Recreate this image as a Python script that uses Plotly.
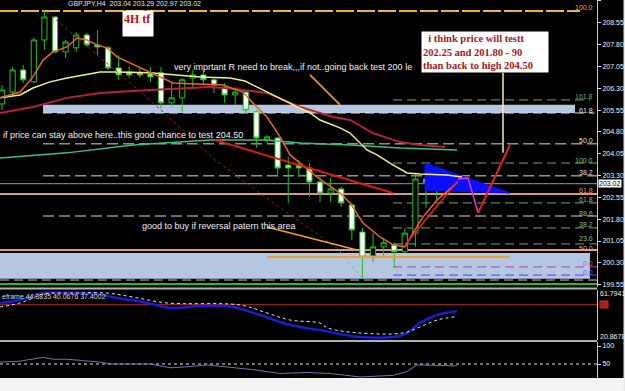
import plotly.graph_objects as go

# ---------------- data ----------------
candle_idx = list(range(44))
opens = [205.76, 206.17, 206.93, 206.52, 207.96, 208.75, 207.55, 207.69, 208.13, 207.79,
         207.69, 207.00, 206.86, 206.83, 206.79, 206.83, 205.80, 205.97, 206.65, 206.76,
         206.59, 206.34, 206.07, 206.17, 205.49, 204.52, 204.59, 203.66, 203.66, 203.56,
         203.08, 202.70, 202.84, 202.29, 201.36, 200.54, 200.85, 200.92, 200.68, 201.32,
         203.18, 203.05, 203.22, 203.04]
highs = [206.41, 207.03, 207.10, 208.03, 208.99, 208.78, 207.96, 208.23, 208.20, 208.30,
         207.76, 207.44, 207.03, 207.00, 207.03, 207.03, 206.48, 206.65, 206.93, 206.93,
         206.65, 206.48, 206.34, 206.24, 205.55, 204.70, 204.63, 203.94, 203.84, 203.73,
         203.25, 203.22, 202.91, 202.36, 201.50, 201.32, 201.16, 200.99, 201.50, 203.39,
         203.29, 203.32, 203.39, 203.29]
lows = [205.55, 206.07, 206.48, 206.48, 207.62, 207.52, 207.34, 207.55, 207.72, 207.44,
        206.93, 206.59, 206.65, 206.65, 206.52, 205.62, 205.66, 205.49, 206.31, 206.41,
        206.14, 205.80, 205.73, 205.45, 204.25, 204.42, 203.32, 202.36, 203.25, 202.57,
        202.39, 202.39, 202.22, 201.09, 199.78, 200.33, 200.50, 200.13, 200.64, 200.85,
        202.19, 202.46, 202.77, 202.97]
closes = [206.24, 206.93, 206.59, 207.96, 208.75, 207.55, 207.89, 208.13, 207.79, 207.72,
          207.00, 206.76, 206.76, 206.76, 206.69, 205.80, 205.97, 206.59, 206.76, 206.59,
          206.41, 206.07, 206.17, 205.55, 204.59, 204.63, 203.56, 203.56, 203.56, 203.08,
          202.70, 202.84, 202.36, 201.43, 200.50, 200.85, 200.99, 200.68, 201.32, 203.18,
          203.05, 203.22, 203.08, 203.02]

# moving averages (bar index, price)
ema_fast_x = [-0.19, 1.70, 2.92, 3.87, 4.81, 6.13, 7.08, 8.02, 8.96, 9.91, 10.85, 12.08, 13.02, 13.96,
              16.13, 20.85, 22.74, 23.68, 25.0, 26.23, 27.17, 29.72, 31.89, 32.83, 34.06, 35.66,
              36.89, 38.02, 38.77, 39.72, 41.04, 42.92]
ema_fast_y = [205.97, 206.17, 206.69, 207.27, 207.55, 207.72, 208.03, 207.96, 207.79, 207.69, 207.38,
              207.17, 207.00, 206.83, 206.48, 206.41, 206.17, 205.79, 205.31, 204.63, 204.01, 203.25,
              202.70, 202.36, 201.67, 201.19, 200.92, 200.85, 201.33, 201.88, 202.46, 203.05]
ma_yellow_x = [-0.19, 1.70, 2.92, 4.53, 6.13, 7.64, 9.25, 10.85, 13.96, 18.68, 21.51, 22.92, 24.06,
               26.51, 29.06, 30.0, 31.89, 32.83, 34.43, 35.38, 36.60, 38.21, 39.43, 41.98, 43.40]
ma_yellow_y = [205.97, 206.07, 206.31, 206.52, 206.65, 206.76, 206.86, 206.86, 206.83, 206.69, 206.65,
               206.55, 206.34, 205.90, 205.45, 205.21, 204.94, 204.76, 204.18, 204.01, 203.73, 203.39,
               203.35, 203.32, 203.25]
ma_crimson_x = [-0.19, 2.92, 6.13, 9.25, 13.96, 19.62, 21.79, 25.0, 28.11, 31.23, 32.83, 35.0,
                37.55, 39.43, 41.79]
ma_crimson_y = [205.45, 205.66, 205.97, 206.14, 206.24, 206.34, 206.28, 206.14, 205.66, 205.31,
                205.21, 204.76, 204.45, 204.35, 204.28]
ma_green_x = [-0.19, 6.13, 12.36, 19.62, 25.0, 28.11, 32.83, 37.55, 42.92]
ma_green_y = [203.90, 204.08, 204.35, 204.52, 204.52, 204.42, 204.35, 204.25, 204.18]

# drawn objects (bar index, price)
trend_red_x = [20.09, 36.89]
trend_red_y = [204.52, 202.70]
diag_dot_x = [4.25, 13.96, 20.09, 26.23, 31.89]
diag_dot_y = [208.92, 205.90, 203.84, 202.19, 200.74]
diag_blue_x = [31.89, 33.96]
diag_blue_y = [200.67, 199.78]
forecast_up_x = [38.02, 43.02]
forecast_up_y = [200.92, 203.12]
forecast_pink_x = [43.02, 43.96, 44.91]
forecast_pink_y = [203.18, 203.22, 202.02]
forecast_red_x = [44.91, 47.92]
forecast_red_y = [202.02, 204.35]
pointer_x = [47.26, 47.26]
pointer_y = [206.83, 204.08]
note1_line_x = [29.06, 31.89]
note1_line_y = [206.76, 205.73]
note3_line_x = [25.0, 33.49]
note3_line_y = [201.53, 200.74]
support_x = [25.0, 47.92]
support_y = [200.50, 200.50]
wedge_x = [39.91, 39.91, 47.92, 39.91]
wedge_y = [203.73, 202.80, 202.70, 203.73]

# level lines: (price, start index, end index, colour, dash, width, label, label colour, label shift)
levels = [
    (208.96, -0.19, 54.53, "#e8b830", "18px,3px", 2, "100.0", "#e8b830", 3),
    (205.90, 36.89, 55.47, "#6fa86f", "9px,5px", 1, "161.8", "#6fa86f", 3),
    (205.45, 3.87, 55.90, "#d8d8d8", "9px,5px", 1, "61.8", "#e0e0e0", 3),
    (204.39, 3.87, 56.13, "#d8d8d8", "11px,5px", 1, "50.0", "#e0e0e0", 3),
    (203.73, 36.89, 56.13, "#6fa86f", "9px,5px", 1, "100.0", "#7fc07f", 3),
    (203.29, 3.87, 56.13, "#d8d8d8", "11px,5px", 1, "38.2", "#e0e0e0", 3),
    (203.02, -0.19, 56.13, "#9a9a9a", "solid", 1, "", "#ffffff", 0),
    (202.67, -0.19, 56.13, "#d49a88", "solid", 2, "61.8", "#e09060", 3),
    (202.36, 36.89, 56.13, "#6fa86f", "9px,5px", 1, "61.8", "#7fc07f", 3),
    (201.91, 3.87, 56.13, "#d8d8d8", "11px,5px", 1, "88.6", "#7fc07f", 3),
    (201.50, 36.89, 56.13, "#6fa86f", "9px,5px", 1, "38.2", "#7fc07f", 3),
    (200.95, 36.89, 56.13, "#6fa86f", "9px,5px", 1, "23.6", "#7fc07f", 5),
    (200.74, -0.19, 56.13, "#d49a88", "solid", 2, "50.0", "#e0a0a0", 2),
    (200.16, 36.89, 56.13, "#b040c0", "9px,5px", 1, "0.0", "#c060d0", 3),
    (199.88, 36.89, 56.13, "#4040ff", "9px,5px", 1, "0.0", "#6060ff", 3),
    (199.71, -0.19, 56.13, "#c8c8c8", "9px,5px", 1, "", "#ffffff", 0),
    (199.57, -0.19, 56.13, "#20c020", "solid", 2, "", "#ffffff", 0),
]
bands = [(205.45, 205.73, 3.87, 54.06), (199.75, 200.64, -0.19, 55.47)]

price_ticks = [209.30, 208.55, 207.80, 207.05, 206.30, 205.55, 204.80, 204.05, 203.30,
               202.55, 201.80, 201.05, 200.30, 199.55]

# indicator 1 (bar index, value)
ind1_blue_x = [-0.19, 1.70, 3.87, 6.13, 8.96, 10.85, 13.30, 15.85, 18.68, 21.79, 24.34, 27.17, 30.0,
               33.77, 37.83, 39.43, 41.04, 42.92]
ind1_blue_y = [51.2, 53.6, 59.3, 59.3, 58.5, 55.2, 52.0, 47.1, 48.7, 47.9, 41.3, 33.1, 29.0,
               23.3, 25.0, 34.8, 41.3, 44.4]
ind1_sig_x = [-0.19, 1.70, 2.92, 3.87, 7.08, 9.91, 12.36, 15.57, 22.45, 25.0, 27.17, 30.0, 30.75,
              33.77, 37.83, 39.43, 41.04, 42.92]
ind1_sig_y = [47.9, 51.2, 55.2, 58.5, 59.3, 59.3, 56.0, 51.2, 49.5, 43.0, 37.2, 34.7, 30.6,
              26.6, 26.6, 31.5, 37.2, 40.1]
ind1_level = 50
# indicator 2
ind2_x = [-0.19, 1.70, 3.87, 4.81, 6.13, 9.25, 10.19, 13.96, 15.85, 17.45, 19.34, 21.79, 23.68,
          26.23, 28.77, 30.94, 33.77, 36.89, 38.21, 39.15, 42.92]
ind2_y = [55.3, 57.9, 68.4, 63.2, 63.2, 55.3, 50.0, 50.0, 39.5, 42.1, 47.4, 39.5, 34.2,
          23.7, 26.3, 23.7, 14.0, 18.4, 28.9, 47.4, 44.7]
ind2_level = 50

# ---------------- figure ----------------
W, H = 625, 391
ML, MR, MT, MB = 0, 28, 0, 13
PW, PH = W - ML - MR, H - MT - MB


def py(p):
    return (PH - p) / PH


def pxp(p):
    return p / PW


fig = go.Figure()

XR = [-0.19, 56.13]

# blue wedge
fig.add_trace(go.Scatter(x=wedge_x, y=wedge_y, fill="toself", fillcolor="#0a10ff",
                         line=dict(color="#0a10ff", width=1), mode="lines", hoverinfo="skip"))

# moving averages
fig.add_trace(go.Scatter(x=ma_green_x, y=ma_green_y, mode="lines",
                         line=dict(color="#3cbf7f", width=1.5)))
fig.add_trace(go.Scatter(x=ma_crimson_x, y=ma_crimson_y, mode="lines",
                         line=dict(color="#b8203c", width=2)))
fig.add_trace(go.Scatter(x=ma_yellow_x, y=ma_yellow_y, mode="lines",
                         line=dict(color="#f4f080", width=1.5)))
fig.add_trace(go.Scatter(x=ema_fast_x, y=ema_fast_y, mode="lines",
                         line=dict(color="#e8662a", width=1.5)))

# drawn lines
fig.add_trace(go.Scatter(x=diag_dot_x, y=diag_dot_y, mode="lines",
                         line=dict(color="#a02020", width=1, dash="dot")))
fig.add_trace(go.Scatter(x=diag_blue_x, y=diag_blue_y, mode="lines",
                         line=dict(color="#70b8c8", width=1, dash="dot")))
fig.add_trace(go.Scatter(x=trend_red_x, y=trend_red_y, mode="lines",
                         line=dict(color="#e01818", width=2)))
fig.add_trace(go.Scatter(x=note1_line_x, y=note1_line_y, mode="lines",
                         line=dict(color="#f0a040", width=1.5)))
fig.add_trace(go.Scatter(x=note3_line_x, y=note3_line_y, mode="lines",
                         line=dict(color="#f0a040", width=1.5)))
fig.add_trace(go.Scatter(x=support_x, y=support_y, mode="lines",
                         line=dict(color="#f0a030", width=2)))

# candles
fig.add_trace(go.Candlestick(
    x=candle_idx, open=opens, high=highs, low=lows, close=closes,
    increasing=dict(line=dict(color="#22c022", width=1), fillcolor="#000000"),
    decreasing=dict(line=dict(color="#22c022", width=1), fillcolor="#ffffff"),
    whiskerwidth=0, hoverinfo="skip"))

# forecast lines
fig.add_trace(go.Scatter(x=forecast_up_x, y=forecast_up_y, mode="lines",
                         line=dict(color="#e82020", width=1.5)))
fig.add_trace(go.Scatter(x=forecast_pink_x, y=forecast_pink_y, mode="lines",
                         line=dict(color="#e030e0", width=1.5)))
fig.add_trace(go.Scatter(x=forecast_red_x, y=forecast_red_y, mode="lines",
                         line=dict(color="#e82020", width=2)))
fig.add_trace(go.Scatter(x=pointer_x, y=pointer_y, mode="lines",
                         line=dict(color="#f8f0b0", width=1.5)))

# indicator 1
fig.add_trace(go.Scatter(x=XR, y=[ind1_level, ind1_level], yaxis="y2", mode="lines",
                         line=dict(color="#a02828", width=1)))
fig.add_trace(go.Scatter(x=ind1_blue_x, y=ind1_blue_y, yaxis="y2", mode="lines",
                         line=dict(color="#1c1cd0", width=2.5, shape="spline")))
fig.add_trace(go.Scatter(x=ind1_sig_x, y=ind1_sig_y, yaxis="y2", mode="lines",
                         line=dict(color="#e8e8e8", width=1, dash="dot", shape="spline")))
# indicator 2
fig.add_trace(go.Scatter(x=XR, y=[ind2_level, ind2_level], yaxis="y3", mode="lines",
                         line=dict(color="#e0e0e0", width=1, dash="dot")))
fig.add_trace(go.Scatter(x=ind2_x, y=ind2_y, yaxis="y3", mode="lines",
                         line=dict(color="#6878b0", width=1)))

shapes = []
for lo, hi, x0, x1 in bands:
    shapes.append(dict(type="rect", xref="x", yref="y", x0=x0, x1=x1, y0=lo, y1=hi,
                       fillcolor="#b4c6e0", line=dict(width=0), layer="below"))
for price, x0, x1, col, dash, wd, lab, lcol, sh in levels:
    shapes.append(dict(type="line", xref="x", yref="y", x0=x0, x1=x1, y0=price, y1=price,
                       line=dict(color=col, width=wd, dash=dash), layer="below"))
# panel separators, frame
for yy in (288.5, 341.0):
    shapes.append(dict(type="line", xref="paper", yref="paper", x0=0, x1=1,
                       y0=py(yy), y1=py(yy), line=dict(color="#b0b0b0", width=2)))
shapes.append(dict(type="rect", xref="paper", yref="paper", x0=-0.01, x1=pxp(626),
                   y0=-MB / PH - 0.01, y1=0, fillcolor="#f4f4f4", line=dict(width=0)))
shapes.append(dict(type="rect", xref="paper", yref="paper", x0=pxp(623.5), x1=pxp(626),
                   y0=-0.05, y1=1.01, fillcolor="#e8e8e8", line=dict(width=0)))

ann = []
txt = dict(family="Liberation Sans, Arial, sans-serif", size=9, color="#f0f0f0")
ann.append(dict(x=16.0, y=207.03, xref="x", yref="y", xanchor="left", yanchor="middle",
                text="very imprtant R need to break,,,if not..going back test 200 le",
                showarrow=False, font=txt))
ann.append(dict(x=-0.05, y=204.70, xref="x", yref="y", xanchor="left", yanchor="middle",
                text="if price can stay above here..this good chance to test 204.50",
                showarrow=False, font=txt))
ann.append(dict(x=13.0, y=201.57, xref="x", yref="y", xanchor="left", yanchor="middle",
                text="good to buy if reversal patern this area", showarrow=False, font=txt))
ann.append(dict(x=12.83, y=208.51, xref="x", yref="y", xanchor="center", yanchor="middle",
                text="<b>4H tf</b>", showarrow=False, width=28, height=23, align="left",
                valign="top", bgcolor="#ffffff", borderpad=1,
                font=dict(family="Liberation Serif, Times New Roman, serif", size=12,
                          color="#c81010")))
ann.append(dict(x=45.57, y=207.53, xref="x", yref="y", xanchor="center", yanchor="middle",
                text="<b>&nbsp;&nbsp;i think price will testt<br>202.25 and 201.80 - 90<br>"
                     "than back to high 204.50</b>",
                showarrow=False, width=124, height=38, align="left", valign="middle",
                bgcolor="#ffffff", borderpad=1,
                font=dict(family="Liberation Serif, Times New Roman, serif", size=10.5,
                          color="#a81818")))
ann.append(dict(x=pxp(66), y=py(3.5), xref="paper", yref="paper", xanchor="left",
                yanchor="middle", text="GBPJPY,H4  203.04 203.29 202.97 203.02",
                showarrow=False, font=dict(family="Liberation Sans, Arial", size=7,
                                           color="#e0e0e0")))
lab_font = dict(family="Liberation Sans, Arial, sans-serif", size=7)
for price, x0, x1, col, dash, wd, lab, lcol, sh in levels:
    if lab:
        ann.append(dict(x=55.9, y=price, xref="x", yref="y", xanchor="right",
                        yanchor="middle", text=lab, showarrow=False, yshift=sh,
                        font=dict(lab_font, color=lcol)))
ann.append(dict(x=1, y=203.02, xref="x domain", yref="y", xanchor="left",
                yanchor="middle", text="203.02", showarrow=False, xshift=1,
                bgcolor="#ffffff", borderpad=0, font=dict(lab_font, color="#000000")))
ann.append(dict(x=1, y=ind1_level, xref="x domain", yref="y2", xanchor="left",
                yanchor="middle", text="50", showarrow=False, xshift=2,
                bgcolor="#d02020", borderpad=0, font=dict(lab_font, color="#602020")))
ann.append(dict(x=1, y=py(293.5), xref="paper", yref="paper", xanchor="left",
                yanchor="middle", text="61.7941", showarrow=False, xshift=1,
                font=dict(lab_font, color="#f0f0f0")))
ann.append(dict(x=1, y=py(336), xref="paper", yref="paper", xanchor="left",
                yanchor="middle", text="20.8678", showarrow=False, xshift=1,
                font=dict(lab_font, color="#f0f0f0")))
ann.append(dict(x=0, y=py(296), xref="paper", yref="paper", xanchor="left",
                yanchor="middle", text="eframe 44.3835 40.0676 37.4002", showarrow=False,
                font=dict(lab_font, color="#d8d8d8")))

axis_common = dict(showgrid=False, zeroline=False, side="right", anchor="x",
                   showline=True, linecolor="#c8c8c8", linewidth=1,
                   ticks="outside", ticklen=3, tickcolor="#e0e0e0",
                   tickfont=dict(lab_font, color="#f0f0f0"), fixedrange=True)

fig.update_layout(
    width=W, height=H, margin=dict(l=ML, r=MR, t=MT, b=MB),
    paper_bgcolor="#000000", plot_bgcolor="#000000", showlegend=False,
    xaxis=dict(range=XR, domain=[0, 1], visible=False, rangeslider=dict(visible=False)),
    yaxis=dict(axis_common, domain=[py(287), 1], range=[199.47, 209.334],
               tickvals=price_ticks, ticktext=[f"{v:.2f}" for v in price_ticks]),
    yaxis2=dict(axis_common, domain=[py(340), py(290)], range=[20.8678, 61.7941],
                tickvals=[], ticks=""),
    yaxis3=dict(axis_common, domain=[0, py(342)], range=[11.1, 111.1],
                tickvals=[100, 50], ticktext=["100", "50"]),
    shapes=shapes, annotations=ann,
)

fig.write_html("out.html")
